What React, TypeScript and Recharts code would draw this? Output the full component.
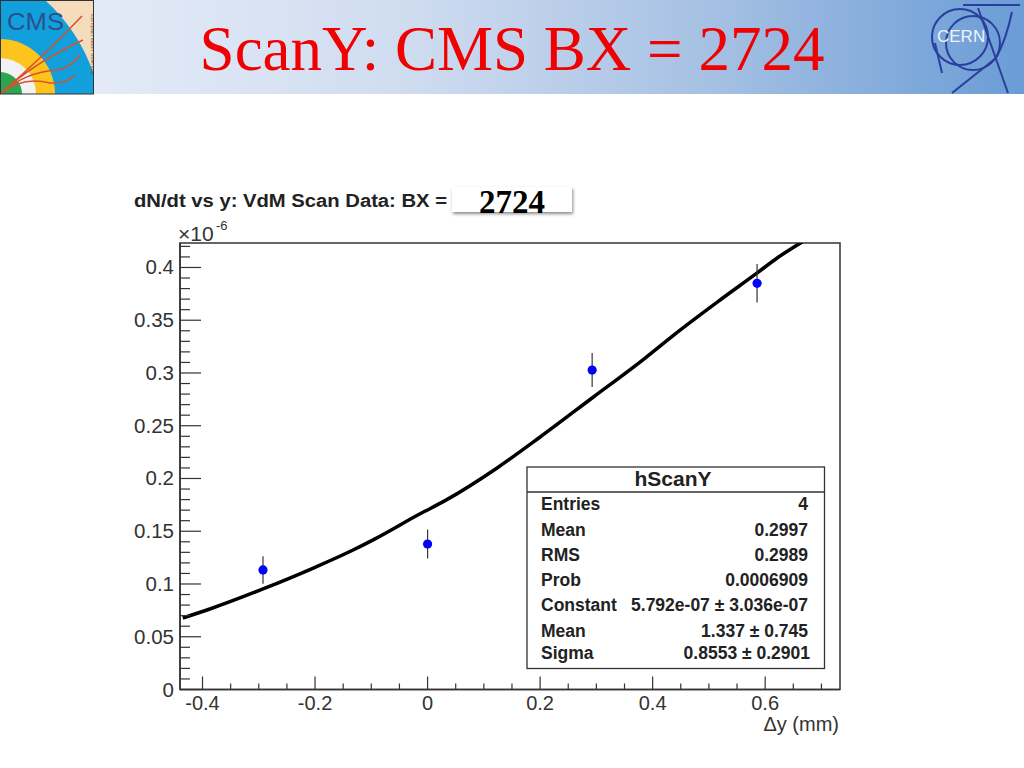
import React from 'react';
import {
  ComposedChart,
  Line,
  Scatter,
  ErrorBar,
  XAxis,
  YAxis,
  ReferenceArea,
} from 'recharts';

// y values in units of 1e-6
const curveX = [-0.435, -0.387, -0.2925, -0.2, -0.1324, -0.0933, -0.0133, 0.0311, 0.1236, 0.2, 0.2924, 0.3867, 0.4364, 0.52, 0.5858, 0.6213, 0.6658];
const curveY = [0.0678, 0.0763, 0.0953, 0.1158, 0.1322, 0.1428, 0.1665, 0.179, 0.21, 0.2393, 0.2763, 0.3142, 0.3355, 0.3692, 0.3948, 0.409, 0.4242];

const pointX = [-0.2925, 0, 0.2925, 0.5856];
const pointY = [0.1133, 0.1379, 0.3028, 0.385];
const pointErr = [0.013, 0.0137, 0.0161, 0.0182];

const xTicks = [-0.4, -0.35, -0.3, -0.25, -0.2, -0.15, -0.1, -0.05, 0, 0.05, 0.1, 0.15, 0.2, 0.25, 0.3, 0.35, 0.4, 0.45, 0.5, 0.55, 0.6, 0.65, 0.7];
const xMajor = [-0.4, -0.2, 0, 0.2, 0.4, 0.6];
const yTicks = [0, 0.01, 0.02, 0.03, 0.04, 0.05, 0.06, 0.07, 0.08, 0.09, 0.1, 0.11, 0.12, 0.13, 0.14, 0.15, 0.16, 0.17, 0.18, 0.19, 0.2, 0.21, 0.22, 0.23, 0.24, 0.25, 0.26, 0.27, 0.28, 0.29, 0.3, 0.31, 0.32, 0.33, 0.34, 0.35, 0.36, 0.37, 0.38, 0.39, 0.4, 0.41, 0.42];
const yMajor = [0, 0.05, 0.1, 0.15, 0.2, 0.25, 0.3, 0.35, 0.4];

const statLabels = ['Entries', 'Mean', 'RMS', 'Prob', 'Constant', 'Mean', 'Sigma'];
const statValues = ['4', '0.2997', '0.2989', '0.0006909', '5.792e-07 ± 3.036e-07', '1.337 ± 0.745', '0.8553 ± 0.2901'];
const statRowY = [510, 536, 561, 586, 611, 637, 659];

const curveRows = curveX.map((x, i) => ({ x, y: curveY[i] }));
const pointRows = pointX.map((x, i) => ({ x, y: pointY[i], err: pointErr[i] }));

const SANS = '"Liberation Sans", Arial, sans-serif';
const SERIF = '"Liberation Serif", "Times New Roman", serif';
const INK = '#333';

const XTick = ({ x, y, payload }: any) => {
  const major = xMajor.includes(payload.value);
  return (
    <g>
      <line x1={x} x2={x} y1={y} y2={y - (major ? 13 : 6)} stroke={INK} strokeWidth={1.2} />
      {major && (
        <text x={x} y={y + 20} textAnchor="middle" fontFamily={SANS} fontSize={20} fill={INK}>
          {payload.value}
        </text>
      )}
    </g>
  );
};

const YTick = ({ x, y, payload }: any) => {
  const major = yMajor.includes(payload.value);
  return (
    <g>
      <line x1={x} x2={x + (major ? 21 : 10)} y1={y} y2={y} stroke={INK} strokeWidth={1.2} />
      {major && (
        <text x={x - 6} y={y + 7} textAnchor="end" fontFamily={SANS} fontSize={20.5} fill={INK}>
          {payload.value}
        </text>
      )}
    </g>
  );
};

const Dot = ({ cx, cy }: any) => <circle cx={cx} cy={cy} r={4.6} fill="#0000ff" />;

// slide banner with the two logos
const Banner = () => (
  <svg width={1024} height={95} style={{ position: 'absolute', left: 0, top: 0 }}>
    <defs>
      <linearGradient id="band" x1="0" x2="1" y1="0" y2="0">
        <stop offset="0" stopColor="#eaeff9" />
        <stop offset="0.4" stopColor="#cfdcf0" />
        <stop offset="0.7" stopColor="#a5c0e3" />
        <stop offset="1" stopColor="#6a9cd6" />
      </linearGradient>
      <clipPath id="cmsClip">
        <rect x={0} y={0} width={93} height={94} />
      </clipPath>
    </defs>
    <rect x={0} y={0} width={1024} height={94} fill="url(#band)" />
    <g clipPath="url(#cmsClip)">
      <rect x={0} y={0} width={93} height={94} fill="#f4dcbc" />
      <path d="M0 0 H45 Q78 30 93 72 V94 H0 Z" fill="#12a0dc" />
      <circle cx={0} cy={94} r={55} fill="#fdc41e" />
      <circle cx={0} cy={94} r={36} fill="#f2f2f2" />
      <circle cx={0} cy={94} r={22} fill="#2aa650" />
      <path
        d="M0 94 Q44 56 82 16 M0 94 Q35 62 83 40 M0 94 Q25 72 57 70 Q70 68 80 55 M0 94 Q22 76 50 83 Q66 84 75 75"
        stroke="#d8502e"
        strokeWidth={1.5}
        fill="none"
      />
      <text x={7} y={30} fontFamily={SANS} fontSize={23} textLength={57} lengthAdjust="spacingAndGlyphs" fill="#2b4f8c">CMS</text>
      <text transform="translate(91 14) rotate(90)" fontFamily={SANS} fontSize={5.5} fill="#7a4a30">Compact Muon Solenoid</text>
    </g>
    <rect x={0.5} y={0.5} width={93} height={93.5} fill="none" stroke="#333" strokeWidth={1} />
    <g stroke="#2a3f9c" strokeWidth={2} fill="none">
      <circle cx={960} cy={37} r={28} />
      <circle cx={973} cy={43} r={27} />
      <path d="M963 5 H1020 M1012 12 Q1006 40 996 58 L952 93 M978 8 L1008 93 M935 43 L942 73" />
    </g>
    <text x={937} y={42} fontFamily={SANS} fontSize={17} fill="#eef3fb">CERN</text>
    <text x={512} y={70} textAnchor="middle" fontFamily={SERIF} fontSize={63} fill="#f00000">
      ScanY: CMS BX = 2724
    </text>
  </svg>
);

// stats panel, title line and axis captions sit on top of the chart
const Annotations = () => (
  <svg width={1024} height={768} style={{ position: 'absolute', left: 0, top: 0 }}>
    <text x={134} y={207} fontFamily={SANS} fontWeight="bold" fontSize={18} textLength={313} lengthAdjust="spacingAndGlyphs" fill="#222">
      dN/dt vs y: VdM Scan Data: BX =
    </text>
    <text x={178} y={241} fontFamily={SANS} fontSize={21} fill={INK}>×10</text>
    <text x={216} y={230} fontFamily={SANS} fontSize={13} fill={INK}>-6</text>
    <text x={839} y={731} textAnchor="end" fontFamily={SANS} fontSize={20} fill={INK}>Δy (mm)</text>
    <rect x={527} y={467} width={297.5} height={201.5} fill="#fff" stroke={INK} strokeWidth={1.3} />
    <line x1={527} x2={824.5} y1={492} y2={492} stroke={INK} strokeWidth={1.3} />
    <text x={673} y={486} textAnchor="middle" fontFamily={SANS} fontWeight="bold" fontSize={21} fill="#222">hScanY</text>
    {statLabels.map((label, i) => (
      <text key={i} x={541} y={statRowY[i]} fontFamily={SANS} fontWeight="bold" fontSize={17.5} fill="#222">{label}</text>
    ))}
    {statValues.map((value, i) => (
      <text key={i} x={i === 6 ? 810 : 808} y={statRowY[i]} textAnchor="end" fontFamily={SANS} fontWeight="bold" fontSize={17.5} fill="#222">{value}</text>
    ))}
  </svg>
);

const App = () => (
  <div style={{ position: 'absolute', left: 0, top: 0, width: 1024, height: 768, background: '#fff', overflow: 'hidden' }}>
    <Banner />
    <div style={{ position: 'absolute', left: 0, top: 0 }}>
      <ComposedChart width={1024} height={768} margin={{ top: 243, right: 184, bottom: 38.5, left: 120 }}>
        <XAxis
          type="number"
          dataKey="x"
          domain={[-0.44, 0.733]}
          ticks={xTicks}
          interval={0}
          allowDataOverflow
          height={40}
          tick={<XTick />}
          tickLine={false}
          tickSize={0}
          tickMargin={0}
          axisLine={{ stroke: INK, strokeWidth: 1.5 }}
        />
        <YAxis
          type="number"
          domain={[0, 0.4232]}
          ticks={yTicks}
          interval={0}
          allowDataOverflow
          width={60}
          tick={<YTick />}
          tickLine={false}
          tickSize={0}
          tickMargin={0}
          axisLine={{ stroke: INK, strokeWidth: 1.5 }}
        />
        <ReferenceArea x1={-0.44} x2={0.733} y1={0} y2={0.4232} fill="none" stroke={INK} strokeWidth={1.5} />
        <Line data={curveRows} dataKey="y" stroke="#000" strokeWidth={3.5} dot={false} isAnimationActive={false} type="monotone" />
        <Scatter data={pointRows} dataKey="y" shape={<Dot />} isAnimationActive={false}>
          <ErrorBar dataKey="err" direction="y" width={0} stroke={INK} strokeWidth={1.2} isAnimationActive={false} />
        </Scatter>
      </ComposedChart>
    </div>
    <Annotations />
    <div
      style={{
        position: 'absolute',
        left: 452,
        top: 187,
        width: 120,
        height: 25,
        background: '#fff',
        boxShadow: '1px 2px 3px rgba(0,0,0,0.45)',
      }}
    />
    <div
      style={{
        position: 'absolute',
        left: 452,
        top: 183,
        width: 120,
        textAlign: 'center',
        fontFamily: SERIF,
        fontWeight: 'bold',
        fontSize: 33,
        lineHeight: '38px',
        color: '#000',
      }}
    >
      2724
    </div>
  </div>
);

export default App;
